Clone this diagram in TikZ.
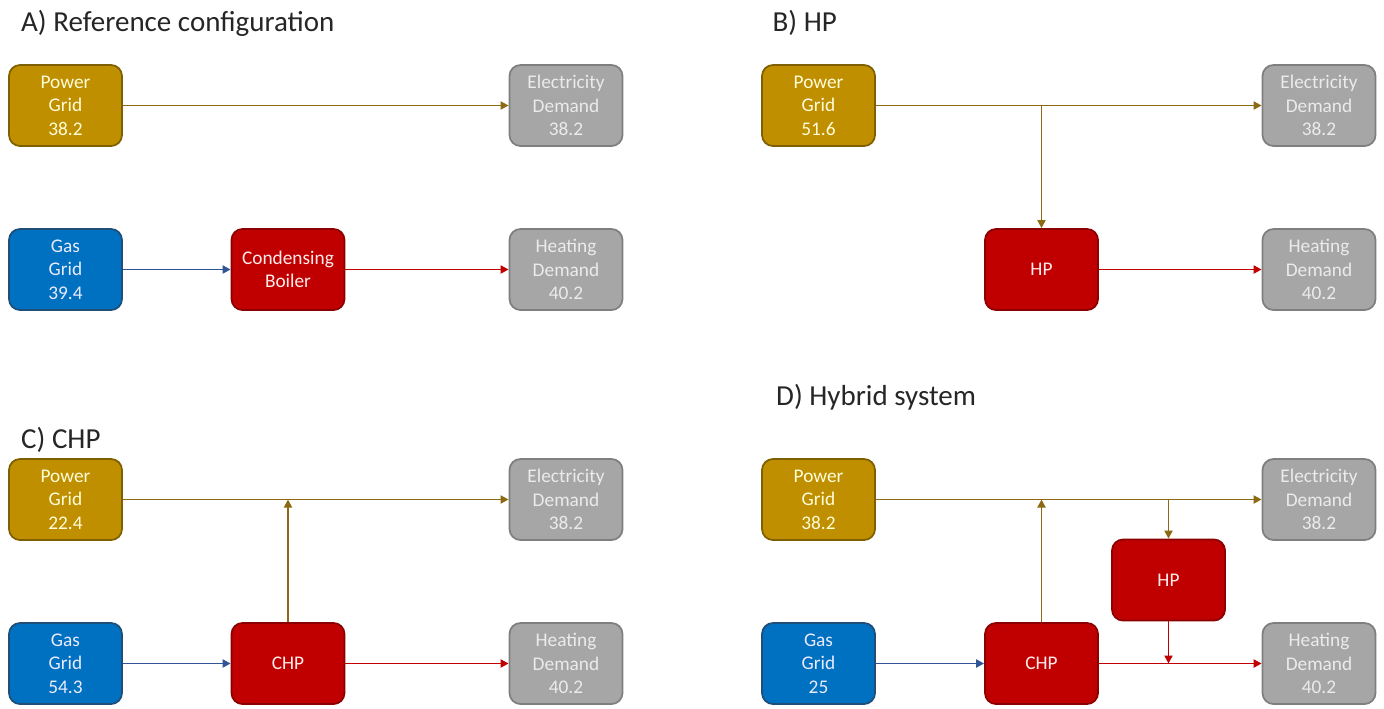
\documentclass[tikz,border=0pt]{standalone}
\usepackage{fontspec}
\setmainfont{Carlito}
\usetikzlibrary{positioning,arrows.meta}

\definecolor{powerfill}{HTML}{BF8F00}
\definecolor{powerdraw}{HTML}{7F6000}
\definecolor{powerline}{HTML}{8C6A14}
\definecolor{gasfill}{HTML}{0070C0}
\definecolor{gasdraw}{HTML}{1F4E79}
\definecolor{gasline}{HTML}{2F5597}
\definecolor{heatfill}{HTML}{C00000}
\definecolor{heatdraw}{HTML}{8B0000}
\definecolor{demfill}{HTML}{A6A6A6}
\definecolor{demdraw}{HTML}{7F7F7F}

\tikzset{
  unit/.style={rectangle, rounded corners=0.22cm, line width=1pt,
    minimum width=2.26cm, minimum height=1.62cm, align=center,
    font=\fontsize{11}{13.4}\selectfont},
  pgrid/.style={unit, fill=powerfill, draw=powerdraw, text=yellow!15},
  ggrid/.style={unit, fill=gasfill, draw=gasdraw, text=blue!8},
  conv/.style={unit, fill=heatfill, draw=heatdraw, text=red!8},
  dem/.style={unit, fill=demfill, draw=demdraw, text=black!8},
  pline/.style={->, line width=1.1pt, draw=powerline},
  gline/.style={->, line width=1.1pt, draw=gasline},
  hline/.style={->, line width=1.1pt, draw=heatfill},
  panel/.style={anchor=west, font=\fontsize{16.5}{20}\selectfont, text=black!85}
}

\begin{document}
\begin{tikzpicture}[node distance=3.28cm, on grid,
    >={Triangle[length=1.6mm,width=1.6mm]}]
	\useasboundingbox (0,0) rectangle (27.68,-14.16);

	% A) reference configuration
	\node[panel] (tA) at (0.30,-0.46) {A) Reference configuration};
	\node[pgrid] (pgA) at (1.31,-2.11) {Power\\Grid\\38.2};
	\node[ggrid] (ggA) [below = of pgA] {Gas\\Grid\\39.4};
	\node[conv] (cbA) [right = 4.45cm of ggA] {Condensing\\Boiler};
	\node[dem] (hdA) [right = 5.56cm of cbA] {Heating\\Demand\\40.2};
	\node[dem] (edA) [above = of hdA] {Electricity\\Demand\\38.2};
	\draw[pline] (pgA) -- (edA);
	\draw[gline] (ggA) -- (cbA);
	\draw[hline] (cbA) -- (hdA);

	% B) HP
	\node[panel] (tB) at (15.33,-0.46) {B) HP};
	\node[pgrid] (pgB) at (16.37,-2.11) {Power\\Grid\\51.6};
	\node[conv] (hpB) [below right = 3.28cm and 4.46cm of pgB] {HP};
	\node[dem] (hdB) [right = 5.55cm of hpB] {Heating\\Demand\\40.2};
	\node[dem] (edB) [above = of hdB] {Electricity\\Demand\\38.2};
	\draw[pline] (pgB) -- (edB);
	\draw[pline] (pgB -| hpB) -- (hpB);
	\draw[hline] (hpB) -- (hdB);

	% C) CHP
	\node[panel] (tC) at (0.30,-8.80) {C) CHP};
	\node[pgrid] (pgC) at (1.31,-9.99) {Power\\Grid\\22.4};
	\node[ggrid] (ggC) [below = of pgC] {Gas\\Grid\\54.3};
	\node[conv] (chpC) [right = 4.45cm of ggC] {CHP};
	\node[dem] (hdC) [right = 5.56cm of chpC] {Heating\\Demand\\40.2};
	\node[dem] (edC) [above = of hdC] {Electricity\\Demand\\38.2};
	\draw[pline] (pgC) -- (edC);
	\draw[pline] (chpC) -- (chpC |- pgC);
	\draw[gline] (ggC) -- (chpC);
	\draw[hline] (chpC) -- (hdC);

	% D) hybrid system
	\node[panel] (tD) at (15.40,-7.94) {D) Hybrid system};
	\node[pgrid] (pgD) at (16.37,-9.99) {Power\\Grid\\38.2};
	\node[ggrid] (ggD) [below = of pgD] {Gas\\Grid\\25};
	\node[conv] (chpD) [right = 4.46cm of ggD] {CHP};
	\node[dem] (hdD) [right = 5.55cm of chpD] {Heating\\Demand\\40.2};
	\node[dem] (edD) [above = of hdD] {Electricity\\Demand\\38.2};
	\node[conv] (hpD) [above right = 1.67cm and 2.54cm of chpD] {HP};
	\draw[pline] (pgD) -- (edD);
	\draw[pline] (chpD) -- (chpD |- pgD);
	\draw[pline] (hpD |- pgD) -- (hpD);
	\draw[hline] (hpD) -- (hpD |- chpD);
	\draw[gline] (ggD) -- (chpD);
	\draw[hline] (chpD) -- (hdD);
\end{tikzpicture}
\end{document}
